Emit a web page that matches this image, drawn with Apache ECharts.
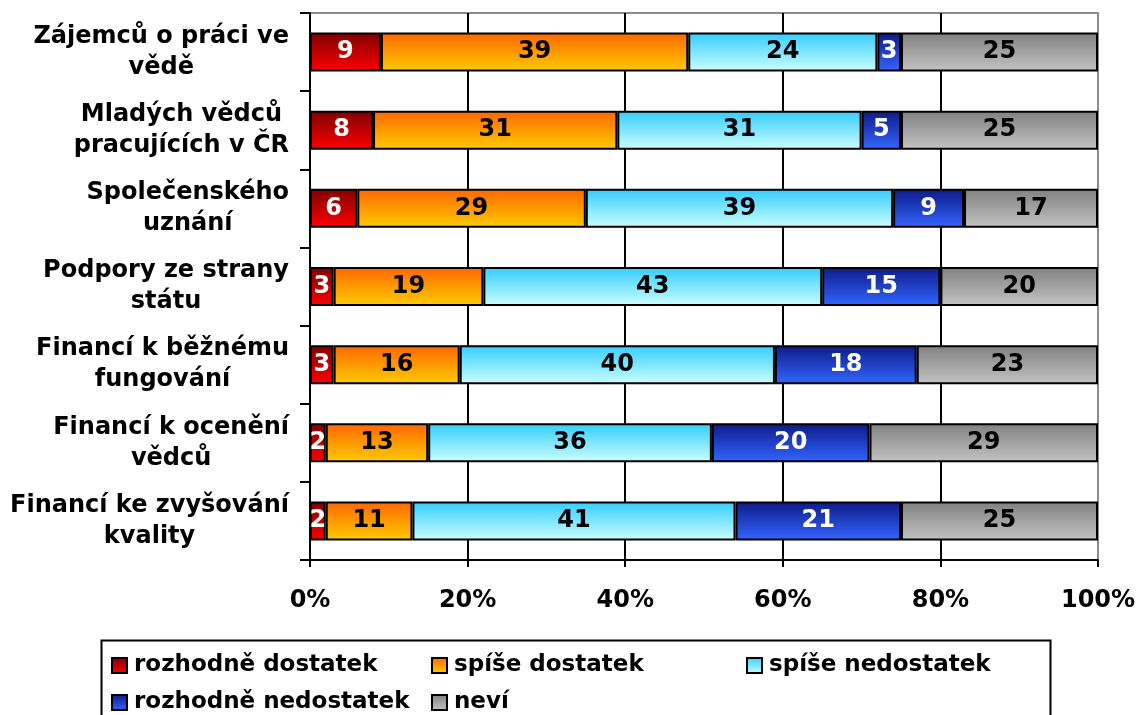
<!DOCTYPE html>
<html>
<head>
<meta charset="utf-8">
<script src="https://cdn.jsdelivr.net/npm/echarts@6/dist/echarts.min.js"></script>
<style>
  html, body { margin: 0; padding: 0; background: #fff; }
  #chart { width: 1140px; height: 715px; }
</style>
</head>
<body>
<div id="chart"></div>
<script>
// Categories (top to bottom)
const categories = [
  'Zájemců o práci ve\nvědě',
  'Mladých vědců\npracujících v ČR',
  'Společenského\nuznání',
  'Podpory ze strany\nstátu',
  'Financí k běžnému\nfungování',
  'Financí k ocenění\nvědců',
  'Financí ke zvyšování\nkvality'
];

// Series values (percent)
const rozhodneDostatek   = [9, 8, 6, 3, 3, 2, 2];
const spiseDostatek      = [39, 31, 29, 19, 16, 13, 11];
const spiseNedostatek    = [24, 31, 39, 43, 40, 36, 41];
const rozhodneNedostatek = [3, 5, 9, 15, 18, 20, 21];
const nevi               = [25, 25, 17, 20, 23, 29, 25];

const seriesNames = ['rozhodně dostatek', 'spíše dostatek', 'spíše nedostatek', 'rozhodně nedostatek', 'neví'];
const seriesData = [rozhodneDostatek, spiseDostatek, spiseNedostatek, rozhodneNedostatek, nevi];

// gradient top -> bottom, and label colour per series
const gradients = [
  ['#800000', '#ff0000'],
  ['#ff6600', '#ffcc00'],
  ['#33ccff', '#ccffff'],
  ['#0d1a88', '#3366ff'],
  ['#808080', '#c4c4c4']
];
const labelColors = ['#fff', '#000', '#000', '#fff', '#000'];

const FONT = '"DejaVu Sans", Verdana, sans-serif';

function grad(c) {
  return new echarts.graphic.LinearGradient(0, 0, 0, 1, [
    { offset: 0, color: c[0] },
    { offset: 1, color: c[1] }
  ]);
}

const chart = echarts.init(document.getElementById('chart'));

const series = seriesNames.map((name, i) => ({
  name,
  type: 'bar',
  stack: 'total',
  barWidth: 39,
  data: seriesData[i],
  itemStyle: { color: grad(gradients[i]), borderColor: '#000', borderWidth: 2 },
  label: {
    show: true,
    position: 'inside',
    color: labelColors[i],
    fontFamily: FONT,
    fontWeight: 'bold',
    fontSize: 24
  },
  emphasis: { disabled: true }
}));

// legend: one component per item so the columns line up
const legendPos = [
  [106, 649], [426, 649], [741, 649],
  [106, 686], [426, 686]
];
const legends = seriesNames.map((name, i) => ({
  data: [name],
  left: legendPos[i][0],
  top: legendPos[i][1],
  itemWidth: 15,
  itemHeight: 15,
  icon: 'rect',
  itemStyle: { borderColor: '#000', borderWidth: 2 },
  textStyle: { fontFamily: FONT, fontWeight: 'bold', fontSize: 23, color: '#000', padding: [0, 0, 0, 2] },
  selectedMode: false
}));

const option = {
  backgroundColor: '#fff',
  animation: false,
  grid: {
    left: 310, right: 42, top: 13, bottom: 155,
    show: true, borderColor: '#8c8c8c', borderWidth: 2, backgroundColor: 'transparent'
  },
  xAxis: {
    type: 'value',
    min: 0,
    max: 100,
    interval: 20,
    axisLine: { show: true, lineStyle: { color: '#000', width: 2 } },
    axisTick: { show: true, length: 7, lineStyle: { color: '#000', width: 2 } },
    splitLine: { show: true, showMaxLine: false, lineStyle: { color: '#000', width: 2 } },
    axisLabel: {
      formatter: '{value}%',
      margin: 29,
      fontFamily: FONT,
      fontWeight: 'bold',
      fontSize: 24,
      color: '#000'
    }
  },
  yAxis: {
    type: 'category',
    inverse: true,
    data: categories,
    axisLine: { show: true, lineStyle: { color: '#000', width: 2 } },
    axisTick: { show: true, length: 10, lineStyle: { color: '#000', width: 2 } },
    axisLabel: {
      margin: 21,
      align: 'right',
      formatter: v => v.split('\n').map(s => '{c|' + s + '}').join('\n'),
      rich: {
        c: {
          align: 'center',
          fontFamily: FONT,
          fontWeight: 'bold',
          fontSize: 24,
          lineHeight: 31,
          color: '#000'
        }
      }
    }
  },
  legend: legends,
  graphic: [{
    type: 'rect',
    left: 99,
    top: 638,
    shape: { width: 949, height: 100 },
    style: { fill: 'none', stroke: '#000', lineWidth: 2 },
    silent: true
  }],
  series
};

chart.setOption(option);
</script>
</body>
</html>
